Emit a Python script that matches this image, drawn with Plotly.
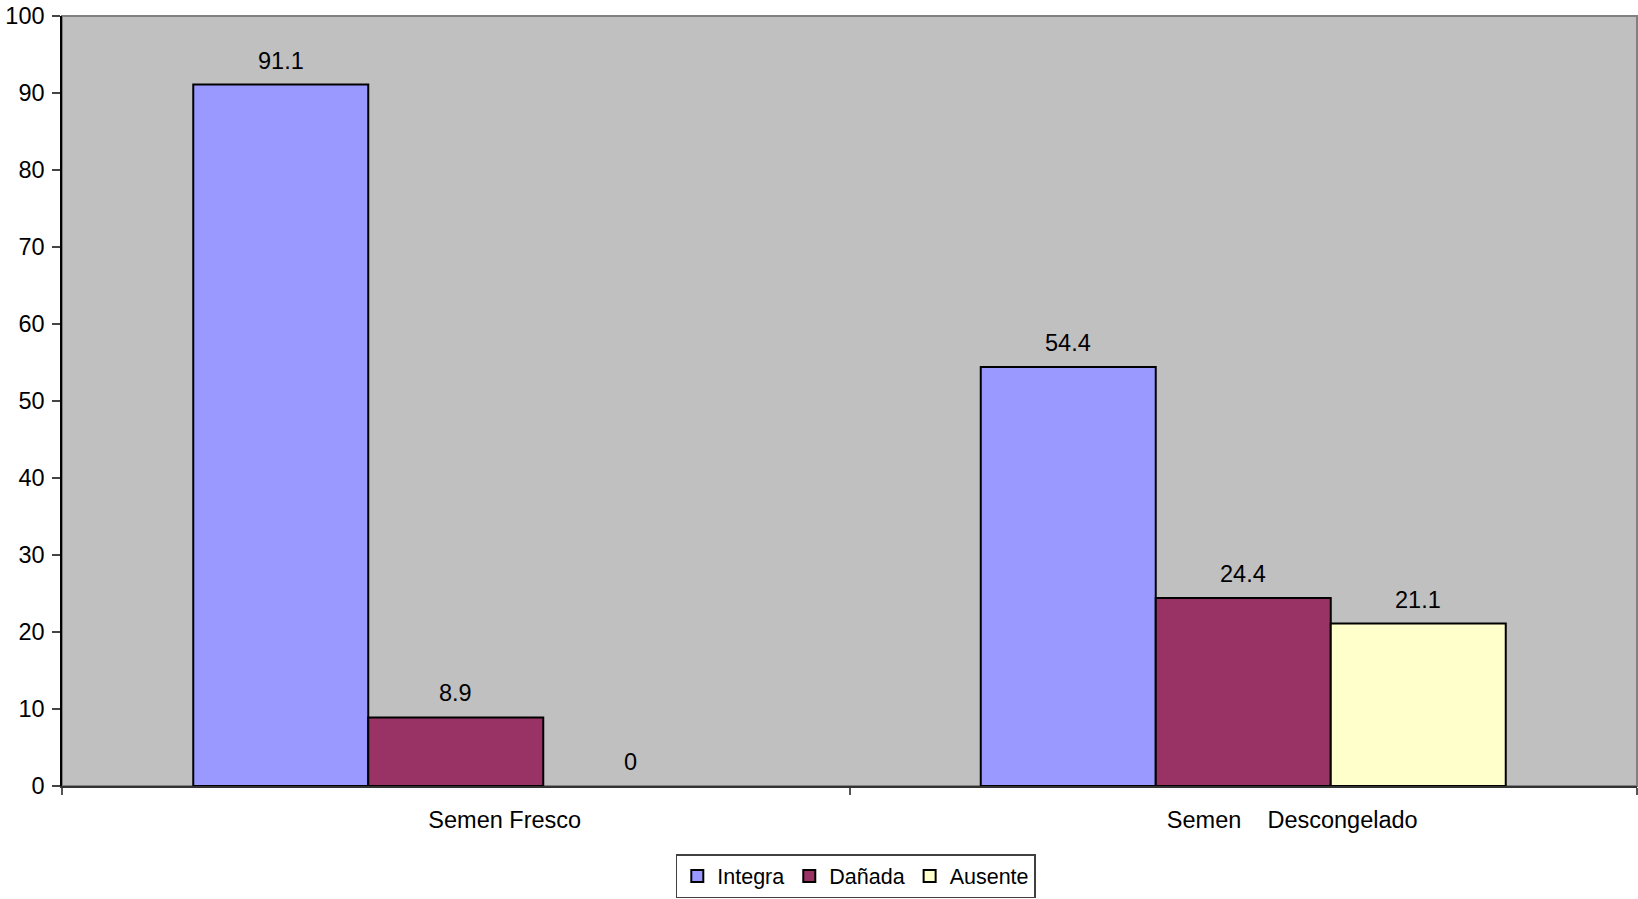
import plotly.graph_objects as go

categories = ["Semen Fresco", "Semen\u00a0\u00a0\u00a0\u00a0Descongelado"]
series_names = ["Integra", "Dañada", "Ausente"]
integra = [91.1, 54.4]
danada = [8.9, 24.4]
ausente = [0, 21.1]
y_ticks = [0, 10, 20, 30, 40, 50, 60, 70, 80, 90, 100]

values = [integra, danada, ausente]
colors = ["#9999FF", "#993366", "#FFFFCC"]
FONT = "Liberation Sans, Arial, sans-serif"
FS = 23.5
BARGAP = 1 / 3

fig = go.Figure()
for name, vals, col in zip(series_names, values, colors):
    fig.add_trace(go.Bar(
        x=categories,
        # zero-height bars are not drawn (no outline) in the reference
        y=[v if v != 0 else None for v in vals],
        name=name,
        marker=dict(color=col, line=dict(color="black", width=2)),
    ))

# data labels above each bar
n = len(series_names)
w = (1 - BARGAP) / n
for j, vals in enumerate(values):
    for i, v in enumerate(vals):
        fig.add_annotation(
            x=i + (j - (n - 1) / 2) * w, y=v, xref="x", yref="y",
            text=f"{v:g}", showarrow=False, yanchor="middle", yshift=24,
            font=dict(family=FONT, size=FS, color="black"),
        )

# plot-area border (gray)
fig.add_shape(type="rect", xref="paper", yref="paper", x0=0, y0=0, x1=1, y1=1,
              line=dict(color="#808080", width=2), layer="below")

fig.update_layout(
    width=1638, height=899,
    margin=dict(l=62, r=1, t=16, b=113, autoexpand=False),
    paper_bgcolor="white", plot_bgcolor="#C0C0C0",
    barmode="group", bargap=BARGAP, bargroupgap=0,
    font=dict(family=FONT, size=FS, color="black"),
    showlegend=True,
    legend=dict(
        orientation="h", x=0.504, xanchor="center", y=-0.117, yanchor="middle",
        bordercolor="#404040", borderwidth=1.5, bgcolor="white",
        font=dict(family=FONT, size=21.5, color="black"),
        itemwidth=30, tracegroupgap=0,
    ),
)
fig.update_xaxes(
    type="category", tickson="boundaries", ticks="outside", ticklen=7,
    tickcolor="#555555", tickwidth=2, automargin=False,
    showline=True, linecolor="#333333", linewidth=2,
    showgrid=False, ticklabelshift=49, ticklabelstandoff=12,
    tickfont=dict(family=FONT, size=FS, color="black"),
)
fig.update_yaxes(
    range=[0, 100], tickvals=y_ticks, ticks="outside", ticklen=8,
    tickcolor="#444444", tickwidth=1.5, automargin=False,
    showline=True, linecolor="black", linewidth=1.5,
    showgrid=False, zeroline=False, ticklabelstandoff=3,
    tickfont=dict(family=FONT, size=FS, color="black"),
)

fig.write_html("out.html")
